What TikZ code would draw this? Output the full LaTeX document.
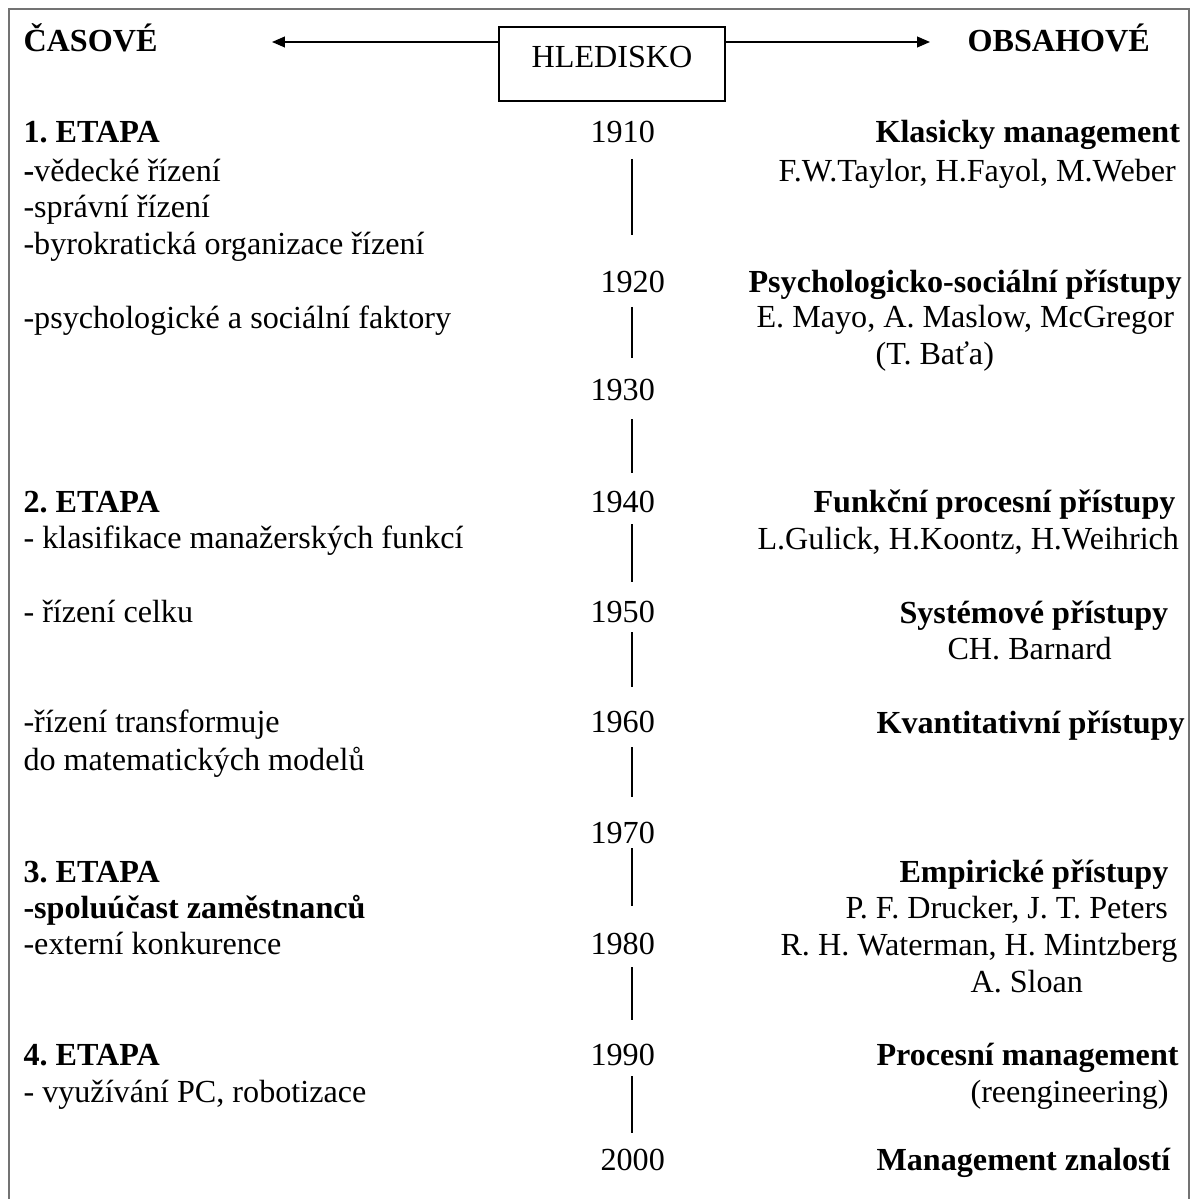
\documentclass[tikz,border=0pt]{standalone}
\usepackage{fontspec}
\setmainfont{Liberation Serif}
\usetikzlibrary{arrows.meta}
\frenchspacing

\begin{document}
\begin{tikzpicture}[x=0.3733pt, y=-0.3733pt,
    every node/.style={font=\fontsize{12}{14}\selectfont, inner sep=0pt},
    txt/.style={anchor=base west},
    hd/.style={anchor=base west, font=\fontsize{12}{14}\selectfont\bfseries},
    tick/.style={line width=0.6pt},
    hedge/.style={line width=0.55pt, -{Triangle[length=4.8pt, width=4pt]}}]
  \clip (0,0) rectangle (1195,1199);
  \draw[black!55, line width=0.5pt] (9,9) rectangle (1189,1240);
  \node[draw, line width=0.8pt, anchor=base, minimum width=84.4pt,
        text height=15.3pt, text depth=12.3pt] (hled) at (612,68) {HLEDISKO};
  \node[hd] (cas) at (23,52) {ČASOVÉ};
  \node[hd] (obs) at (967,52) {OBSAHOVÉ};
  \coordinate (lt) at (272,42); \coordinate (rt) at (930,42);
  \draw[hedge] (hled.west |- lt) -- (lt);
  \draw[hedge] (hled.east |- rt) -- (rt);
  \foreach \n/\y/\t in {a/143/{\textbf{1. ETAPA}}, b/182/{\textbf{-}vědecké řízení},
      c/218/-správní řízení, d/255/-byrokratická organizace řízení,
      e/328/-psychologické a sociální faktory, f/512/{\textbf{2. ETAPA}},
      g/548/- klasifikace manažerských funkcí, h/622/- řízení celku,
      i/732/-řízení transformuje, j/770/do matematických modelů,
      k/882/{\textbf{3. ETAPA}}, l/918/{\textbf{-spoluúčast zaměstnanců}},
      m/954/-externí konkurence, n/1065/{\textbf{4. ETAPA}},
      o/1102/{- využívání PC, robotizace}}
    \node[txt] (l\n) at (23,\y) {\t};
  \foreach \yr/\x/\y in {1910/590/143, 1920/600/292, 1930/590/400, 1940/590/512,
      1950/590/622, 1960/590/732, 1970/590/843, 1980/590/954, 1990/590/1065, 2000/600/1170}
    \node[txt] (y\yr) at (\x,\y) {\yr};
  \coordinate (axis) at (632,0);
  \foreach \a/\b/\s/\e in {1910/1920/16/57, 1920/1930/15/42, 1930/1940/19/39,
      1940/1950/12/40, 1950/1960/10/45, 1960/1970/15/46, 1970/1980/5/48,
      1980/1990/13/45, 1990/2000/11/37}
    \draw[tick, shorten <=\s*0.3733pt, shorten >=\e*0.3733pt] (axis |- y\a.base) -- (axis |- y\b.base);
  \foreach \n/\x/\y/\t in {a/875/143/{\textbf{Klasicky management}},
      b/778/182/{F.W.Taylor, H.Fayol, M.Weber},
      c/748/292/{\textbf{Psychologicko-sociální přístupy}},
      d/756/327/{E. Mayo, A. Maslow, McGregor}, e/875/365/(T. Baťa),
      f/813/512/{\textbf{Funkční procesní přístupy}},
      g/757/549/{L.Gulick, H.Koontz, H.Weihrich},
      h/899/623/{\textbf{Systémové přístupy}}, i/947/659/CH. Barnard,
      j/876/733/{\textbf{Kvantitativní přístupy}},
      k/899/882/{\textbf{Empirické přístupy}},
      l/845/918/{P. F. Drucker, J. T. Peters},
      m/780/955/{R. H. Waterman, H. Mintzberg}, n/970/992/A. Sloan,
      o/876/1065/{\textbf{Procesní management}}, p/970/1102/(reengineering),
      q/876/1170/{\textbf{Management znalostí}}}
    \node[txt] (r\n) at (\x,\y) {\t};
\end{tikzpicture}
\end{document}
